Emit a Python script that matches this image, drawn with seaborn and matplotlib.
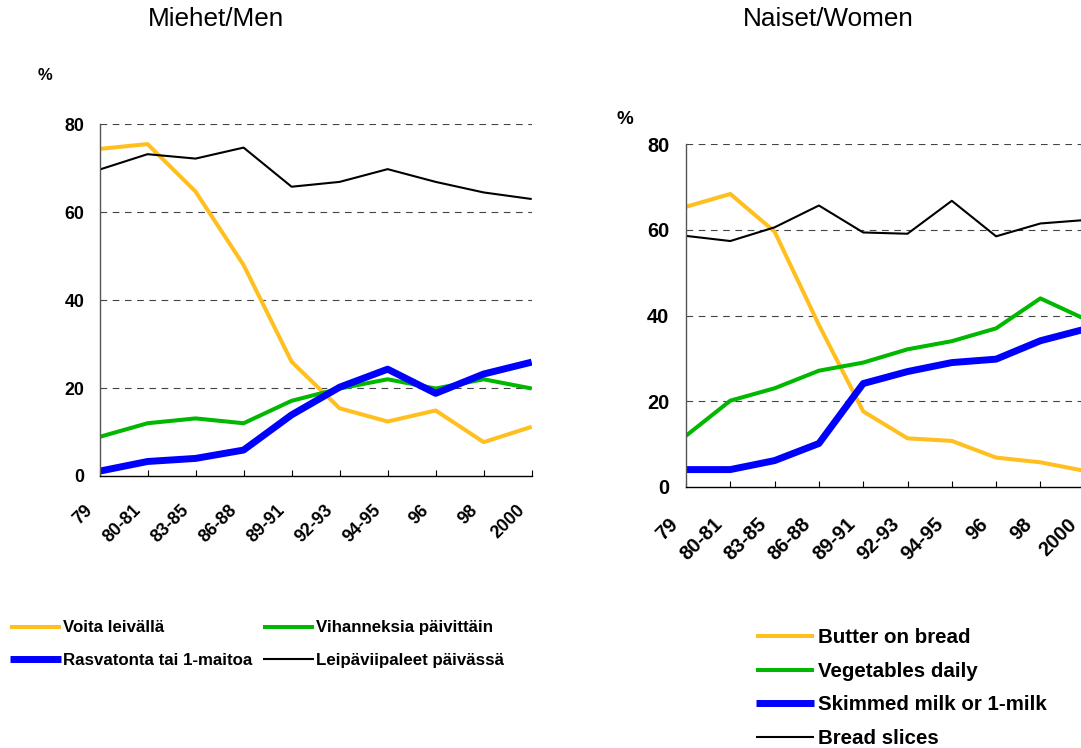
import matplotlib
matplotlib.use("Agg")
import matplotlib.pyplot as plt
import matplotlib.transforms as mtransforms
import seaborn as sns
import pandas as pd
import numpy as np

periods = ["79", "80-81", "83-85", "86-88", "89-91", "92-93", "94-95", "96", "98", "2000"]

# Men
men_butter = [74.4, 75.5, 64.7, 48.0, 26.0, 15.4, 12.4, 14.9, 7.7, 11.2]
men_veg = [8.9, 12.0, 13.1, 12.0, 17.1, 19.9, 22.0, 19.9, 22.0, 19.9]
men_milk = [1.1, 3.3, 4.0, 5.9, 13.9, 20.2, 24.3, 18.8, 23.2, 25.9]
men_bread = [69.7, 73.2, 72.2, 74.7, 65.8, 66.9, 69.8, 66.9, 64.5, 63.0]

# Women
women_butter = [65.4, 68.4, 59.6, 37.8, 17.6, 11.3, 10.7, 6.8, 5.7, 3.7]
women_veg = [11.9, 20.1, 23.0, 27.1, 29.0, 32.1, 34.0, 37.0, 44.0, 39.2]
women_milk = [4.0, 4.0, 6.1, 10.1, 24.1, 26.9, 29.0, 29.8, 34.1, 36.8]
women_bread = [58.6, 57.4, 60.6, 65.7, 59.4, 59.1, 66.8, 58.5, 61.5, 62.3]

labels_fi = ["Voita leivällä", "Vihanneksia päivittäin", "Rasvatonta tai 1-maitoa", "Leipäviipaleet päivässä"]
labels_en = ["Butter on bread", "Vegetables daily", "Skimmed milk or 1-milk", "Bread slices"]

colors = ["#FFBF1F", "#00B800", "#0000FF", "#000000"]
widths = [2.9, 2.9, 5.0, 1.5]

sns.set_style("white")
plt.rcParams["font.family"] = ["Liberation Sans", "DejaVu Sans"]
plt.rcParams["text.color"] = "black"
plt.rcParams["xtick.color"] = "black"
plt.rcParams["ytick.color"] = "black"
plt.rcParams["xtick.labelcolor"] = "black"
plt.rcParams["ytick.labelcolor"] = "black"

W, H = 1081, 748
fig = plt.figure(figsize=(W / 100, H / 100), dpi=100)

def px_axes(x0, x1, ytop, ybot):
    return fig.add_axes([x0 / W, 1 - ybot / H, (x1 - x0) / W, (ybot - ytop) / H])

ax1 = px_axes(99.5, 531.7, 124.3, 476.0)
ax2 = px_axes(686.0, 1084.7, 144.3, 486.7)

def draw(ax, series, labels, tick_fs, xpad, ypad, xshift):
    x = np.arange(len(periods))
    handles = []
    for vals, lab, c, lw in zip(series, labels, colors, widths):
        df = pd.DataFrame({"x": x, "y": vals})
        sns.lineplot(data=df, x="x", y="y", ax=ax, color=c, linewidth=lw,
                     label=lab, legend=False)
        ln = ax.lines[-1]
        ln.set_solid_capstyle("butt")
        ln.set_solid_joinstyle("round")
        handles.append(ln)
    ax.set_xlim(0, len(periods) - 1)
    ax.set_ylim(0, 80)
    ax.set_yticks([0, 20, 40, 60, 80])
    ax.set_xticks(x)
    ax.set_xlabel("")
    ax.set_ylabel("")
    for yv in [20, 40, 60, 80]:
        ax.axhline(yv, color="#444444", lw=0.8, ls=(0, (6, 5)), zorder=0.5)
    ax.grid(False)
    for s in ["top", "right"]:
        ax.spines[s].set_visible(False)
    ax.spines["left"].set_color("#555555")
    ax.spines["left"].set_linewidth(1.0)
    ax.spines["bottom"].set_color("#000000")
    ax.spines["bottom"].set_linewidth(1.0)
    ax.tick_params(axis="x", direction="in", length=4.3, width=0.8, color="black",
                   pad=xpad, bottom=True, labelcolor="black")
    ax.tick_params(axis="y", length=0, pad=ypad, labelcolor="black")
    ax.set_xticklabels(periods, rotation=45, ha="right", va="center",
                       rotation_mode="anchor", fontweight="bold", fontsize=tick_fs)
    ax.set_yticklabels(["0", "20", "40", "60", "80"], fontweight="bold", fontsize=tick_fs)
    off = mtransforms.ScaledTranslation(xshift / 100, 0, fig.dpi_scale_trans)
    for t in ax.get_xticklabels():
        t.set_transform(t.get_transform() + off)
    return handles

h1 = draw(ax1, [men_butter, men_veg, men_milk, men_bread], labels_fi, 12.8, 23, 11, -9)
h2 = draw(ax2, [women_butter, women_veg, women_milk, women_bread], labels_en, 14.4, 25, 12, -11)

fig.text(216 / W, 1 - 19 / H, "Miehet/Men", ha="center", va="center", fontsize=18.8, color="black")
fig.text(828 / W, 1 - 19 / H, "Naiset/Women", ha="center", va="center", fontsize=18.8, color="black")
fig.text(45 / W, 1 - 75 / H, "%", ha="center", va="center", fontsize=12, fontweight="bold", color="black")
fig.text(625 / W, 1 - 120 / H, "%", ha="center", va="center", fontsize=13.5, fontweight="bold", color="black")

leg1 = fig.legend(handles=[h1[0], h1[2], h1[1], h1[3]],
                  labels=[labels_fi[0], labels_fi[2], labels_fi[1], labels_fi[3]],
                  ncol=2, loc="upper left", bbox_to_anchor=(2 / W, 1 - 612 / H),
                  frameon=False, borderpad=0, handlelength=3.0, handletextpad=0.1,
                  columnspacing=0.65, labelspacing=1.05,
                  prop={"weight": "bold", "size": 12.2})

leg2 = fig.legend(handles=h2, labels=labels_en, ncol=1, loc="upper left",
                  bbox_to_anchor=(746 / W, 1 - 618 / H),
                  frameon=False, borderpad=0, handlelength=2.8, handletextpad=0.22,
                  labelspacing=0.71, prop={"weight": "bold", "size": 14.8})

for leg in (leg1, leg2):
    for ln in leg.get_lines():
        ln.set_solid_capstyle("butt")
    for t in leg.get_texts():
        t.set_color("black")

fig.savefig("out.png", dpi=100)
